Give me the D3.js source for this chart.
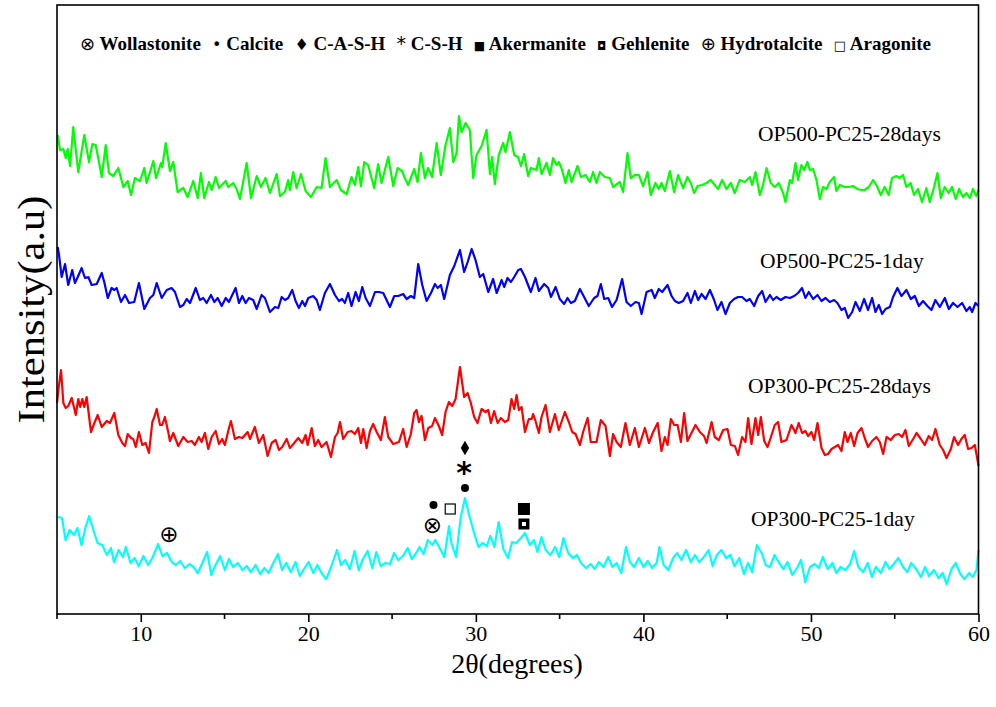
<!DOCTYPE html>
<html>
<head>
<meta charset="utf-8">
<title>XRD patterns OP300 / OP500 - PC25</title>
<script src="https://cdnjs.cloudflare.com/ajax/libs/d3/7.8.5/d3.min.js"></script>
<style>
  body { margin: 0; background: #fff; }
  svg text { font-family: "Liberation Serif", "Times New Roman", serif; fill: #000; }
  .sym { font-family: "DejaVu Sans", sans-serif; }
</style>
</head>
<body>
<div id="chart"></div>
<script>
// [2theta (deg), intensity (a.u., stacked as plotted)]
const op500_28d = [[5.04,479],[5.18,464],[5.38,465],[5.52,456],[5.64,465],[5.78,448],[5.97,487],[6.27,442],[6.63,479],[6.91,452],[7.11,470],[7.31,469],[7.46,456],[7.67,437],[7.91,469],[8.10,441],[8.36,438],[8.66,446],[8.96,427],[9.22,433],[9.42,419],[9.65,436],[9.95,433],[10.21,446],[10.35,431],[10.75,453],[10.91,436],[11.21,451],[11.28,447],[11.49,471],[11.74,443],[11.94,452],[12.20,422],[12.54,426],[12.80,417],[13.13,433],[13.40,416],[13.59,441],[13.79,416],[14.07,432],[14.23,424],[14.47,437],[14.67,426],[15.07,433],[15.22,427],[15.52,431],[15.72,425],[15.92,415],[16.32,451],[16.58,416],[16.92,438],[17.17,427],[17.45,436],[17.71,421],[18.11,440],[18.31,418],[18.60,422],[18.80,434],[18.90,424],[19.10,442],[19.30,426],[19.56,440],[19.84,423],[20.16,417],[20.50,427],[20.79,426],[21.03,456],[21.29,427],[21.69,434],[21.95,424],[22.29,420],[22.58,437],[22.78,429],[22.98,447],[23.14,428],[23.34,452],[23.57,449],[23.93,426],[24.17,450],[24.37,431],[24.77,457],[25.07,428],[25.33,446],[25.60,443],[25.76,436],[25.96,429],[26.32,445],[26.52,432],[26.72,461],[26.96,436],[27.15,446],[27.39,437],[27.66,471],[27.91,439],[28.19,469],[28.45,486],[28.65,452],[28.85,461],[28.99,498],[29.15,482],[29.39,491],[29.64,484],[29.84,436],[30.04,459],[30.34,468],[30.64,484],[30.84,440],[30.97,457],[31.13,430],[31.37,459],[31.63,471],[31.77,462],[32.03,482],[32.29,459],[32.52,457],[32.69,448],[32.88,460],[33.12,438],[33.28,446],[33.62,444],[33.76,456],[33.92,440],[34.22,451],[34.42,439],[34.61,456],[34.82,449],[34.95,452],[35.11,446],[35.35,431],[35.55,444],[35.71,432],[36.07,448],[36.27,437],[36.55,439],[36.80,432],[37.00,442],[37.20,431],[37.40,442],[37.70,437],[38.00,436],[38.19,427],[38.59,432],[38.79,422],[39.05,461],[39.25,436],[39.49,439],[39.73,439],[39.98,428],[40.25,442],[40.44,419],[40.72,431],[40.92,425],[41.08,431],[41.28,423],[41.58,443],[41.83,422],[42.07,439],[42.37,426],[42.63,437],[42.83,431],[43.03,421],[43.23,428],[43.50,429],[43.77,431],[44.02,434],[44.26,429],[44.46,425],[44.70,434],[44.96,425],[45.22,431],[45.45,421],[45.75,434],[46.05,432],[46.35,437],[46.49,429],[46.69,442],[46.95,419],[47.14,429],[47.35,446],[47.60,431],[47.84,427],[48.08,431],[48.34,421],[48.48,412],[48.74,434],[48.87,431],[49.08,451],[49.23,434],[49.43,449],[49.59,444],[49.79,452],[49.93,444],[50.13,445],[50.33,434],[50.53,415],[50.72,427],[50.93,425],[51.12,432],[51.38,437],[51.52,423],[51.72,429],[52.02,427],[52.26,427],[52.51,428],[52.78,425],[53.01,424],[53.21,424],[53.45,427],[53.71,434],[53.91,429],[54.17,419],[54.40,427],[54.64,419],[54.84,436],[55.10,438],[55.30,436],[55.50,439],[55.70,427],[55.95,431],[56.15,419],[56.39,425],[56.63,412],[56.89,426],[57.09,412],[57.35,427],[57.55,441],[57.75,416],[57.98,427],[58.22,421],[58.42,427],[58.64,415],[58.84,425],[59.07,417],[59.28,421],[59.48,416],[59.67,425],[59.87,418],[60.00,424]];

const op500_1d = [[5.04,367],[5.12,359],[5.28,337],[5.48,350],[5.67,329],[5.91,344],[6.07,331],[6.24,337],[6.47,346],[6.67,336],[6.87,337],[7.07,329],[7.37,330],[7.67,341],[7.82,332],[8.03,316],[8.26,326],[8.42,324],[8.56,326],[8.82,312],[9.06,319],[9.30,311],[9.61,312],[9.89,331],[10.21,305],[10.55,316],[10.75,319],[10.95,331],[11.25,316],[11.55,324],[11.84,326],[12.04,322],[12.34,307],[12.54,309],[12.74,315],[12.94,311],[13.28,326],[13.53,314],[13.73,316],[13.93,311],[14.19,319],[14.39,312],[14.59,316],[14.83,308],[15.07,316],[15.26,312],[15.66,326],[15.86,311],[16.06,318],[16.26,311],[16.46,316],[16.71,314],[16.92,305],[17.21,319],[17.41,316],[17.71,302],[18.01,307],[18.21,306],[18.41,317],[18.61,314],[18.80,316],[19.04,324],[19.24,313],[19.44,306],[19.64,313],[19.80,308],[20.00,316],[20.29,318],[20.50,314],[20.69,304],[20.99,321],[21.29,330],[21.59,319],[21.83,313],[22.02,315],[22.18,311],[22.38,321],[22.58,308],[22.82,322],[23.02,313],[23.22,327],[23.42,316],[23.68,308],[23.98,322],[24.21,322],[24.47,321],[24.87,307],[25.13,318],[25.37,318],[25.66,320],[25.87,315],[26.12,318],[26.32,316],[26.56,350],[26.80,329],[27.06,313],[27.32,321],[27.56,330],[27.72,326],[27.91,329],[28.11,315],[28.45,339],[28.71,348],[29.05,364],[29.30,342],[29.51,352],[29.75,365],[29.98,354],[30.24,337],[30.44,340],[30.74,322],[31.03,335],[31.24,321],[31.54,334],[31.69,327],[31.89,336],[32.09,332],[32.29,337],[32.53,344],[32.69,345],[32.93,337],[33.28,322],[33.56,336],[33.76,323],[34.08,330],[34.32,326],[34.48,317],[34.76,327],[35.01,315],[35.27,310],[35.47,316],[35.67,311],[35.91,313],[36.21,325],[36.46,317],[36.74,308],[37.06,316],[37.26,318],[37.46,330],[37.66,315],[37.90,316],[38.13,307],[38.40,314],[38.73,335],[38.99,312],[39.25,308],[39.53,312],[39.73,311],[39.89,300],[40.19,322],[40.49,324],[40.68,316],[40.92,325],[41.12,322],[41.44,329],[41.68,318],[41.88,313],[42.11,311],[42.37,313],[42.63,321],[42.83,311],[43.07,323],[43.27,314],[43.47,320],[43.71,315],[43.97,324],[44.22,314],[44.42,304],[44.66,312],[44.90,300],[45.16,311],[45.41,315],[45.65,317],[45.89,317],[46.15,313],[46.35,315],[46.61,308],[46.85,318],[47.09,323],[47.29,312],[47.55,319],[47.74,314],[47.94,317],[48.20,314],[48.48,317],[48.74,316],[49.00,318],[49.23,321],[49.47,326],[49.67,316],[49.87,322],[50.13,315],[50.39,319],[50.63,313],[50.87,316],[51.12,312],[51.38,314],[51.58,311],[51.82,304],[52.02,306],[52.22,296],[52.46,302],[52.66,312],[52.92,303],[53.17,315],[53.41,304],[53.65,316],[53.85,302],[54.05,309],[54.25,300],[54.45,305],[54.71,307],[54.90,317],[55.16,326],[55.40,318],[55.70,324],[55.96,315],[56.20,318],[56.44,308],[56.69,313],[56.95,308],[57.19,304],[57.43,314],[57.69,307],[57.99,316],[58.23,305],[58.48,311],[58.75,307],[59.02,311],[59.28,303],[59.48,307],[59.62,302],[59.82,311],[60.00,308]];

const op300_28d = [[5.00,211],[5.12,229],[5.24,244],[5.38,211],[5.52,206],[5.67,208],[5.88,216],[6.12,199],[6.27,215],[6.39,207],[6.51,215],[6.63,207],[6.77,217],[7.03,182],[7.23,191],[7.43,199],[7.67,187],[7.97,193],[8.16,191],[8.42,201],[8.66,179],[8.90,171],[9.06,168],[9.22,180],[9.42,176],[9.55,175],[9.70,167],[9.89,182],[10.09,169],[10.29,171],[10.49,161],[10.69,192],[10.81,197],[10.95,205],[11.15,189],[11.28,189],[11.44,197],[11.64,182],[11.74,173],[11.94,181],[12.24,168],[12.54,177],[12.80,172],[13.04,173],[13.23,169],[13.47,177],[13.63,172],[13.83,181],[14.03,165],[14.23,177],[14.47,183],[14.67,170],[14.86,175],[15.02,169],[15.22,183],[15.38,193],[15.62,175],[15.86,177],[16.06,176],[16.38,182],[16.52,175],[16.81,187],[17.05,171],[17.31,179],[17.57,158],[17.81,171],[18.05,174],[18.25,164],[18.44,167],[18.71,175],[18.90,166],[19.16,171],[19.40,176],[19.64,171],[19.84,179],[19.96,169],[20.20,186],[20.39,168],[20.59,174],[20.79,167],[21.09,172],[21.35,157],[21.59,177],[21.75,181],[21.89,192],[22.08,175],[22.35,182],[22.58,183],[22.78,180],[22.98,186],[23.14,171],[23.28,185],[23.48,166],[23.68,183],[23.87,190],[24.08,182],[24.33,174],[24.57,197],[24.77,177],[25.07,170],[25.41,172],[25.66,185],[25.87,167],[26.12,180],[26.32,201],[26.46,204],[26.60,192],[26.76,198],[26.96,174],[27.16,186],[27.39,188],[27.56,196],[27.79,188],[27.99,179],[28.19,202],[28.39,212],[28.59,208],[28.79,215],[29.05,247],[29.30,217],[29.51,221],[29.70,211],[29.90,197],[30.10,191],[30.34,205],[30.58,202],[30.74,204],[30.90,191],[31.09,203],[31.30,191],[31.49,196],[31.73,192],[31.93,194],[32.13,215],[32.29,205],[32.43,219],[32.57,204],[32.73,207],[32.93,182],[33.16,195],[33.33,195],[33.42,200],[33.56,193],[33.76,181],[33.92,197],[34.16,209],[34.42,182],[34.72,200],[34.95,184],[35.31,202],[35.55,192],[35.75,182],[35.95,180],[36.21,169],[36.40,182],[36.67,196],[36.86,172],[37.20,172],[37.46,194],[37.74,188],[38.00,158],[38.19,180],[38.40,172],[38.65,167],[38.93,191],[39.19,169],[39.49,186],[39.73,167],[40.09,186],[40.33,171],[40.58,182],[40.85,191],[41.08,163],[41.28,177],[41.44,169],[41.64,195],[41.84,189],[42.04,189],[42.24,172],[42.43,201],[42.63,173],[42.87,181],[43.11,189],[43.37,182],[43.62,178],[43.77,171],[44.07,192],[44.26,177],[44.50,174],[44.76,184],[45.02,185],[45.22,169],[45.46,168],[45.65,159],[45.89,177],[46.09,172],[46.25,196],[46.45,170],[46.69,196],[46.85,179],[47.01,197],[47.21,173],[47.41,167],[47.65,179],[47.84,189],[48.04,192],[48.24,172],[48.54,174],[48.84,189],[49.08,181],[49.27,191],[49.47,181],[49.67,183],[49.83,178],[50.03,182],[50.19,174],[50.39,191],[50.63,166],[50.83,159],[51.02,160],[51.23,165],[51.42,167],[51.62,169],[51.82,163],[52.02,182],[52.18,172],[52.38,181],[52.58,168],[52.78,181],[53.02,186],[53.21,176],[53.41,167],[53.65,173],[53.91,177],[54.11,172],[54.31,160],[54.51,177],[54.77,174],[55.00,179],[55.24,180],[55.44,177],[55.64,184],[55.84,168],[56.10,175],[56.30,181],[56.56,175],[56.79,169],[57.03,178],[57.23,174],[57.43,185],[57.69,169],[57.89,164],[58.09,156],[58.35,165],[58.54,177],[58.78,169],[58.98,175],[59.18,179],[59.38,165],[59.58,166],[59.78,169],[59.94,154],[60.00,148]];

const op300_1d = [[5.06,97],[5.30,96],[5.51,74],[5.76,84],[6.01,79],[6.22,86],[6.46,69],[6.71,87],[6.92,98],[7.17,84],[7.42,71],[7.70,69],[7.98,59],[8.22,66],[8.40,52],[8.68,64],[8.93,57],[9.11,67],[9.39,51],[9.63,56],[9.88,48],[10.16,58],[10.44,49],[10.69,56],[11.04,70],[11.29,58],[11.57,61],[11.85,52],[12.09,49],[12.35,53],[12.63,46],[12.91,50],[13.15,47],[13.40,41],[13.68,51],[13.96,62],[14.21,39],[14.46,49],[14.74,58],[15.02,44],[15.26,55],[15.51,47],[15.79,51],[16.07,44],[16.32,48],[16.57,42],[16.85,49],[17.13,40],[17.38,46],[17.63,41],[17.91,51],[18.19,60],[18.43,44],[18.68,51],[18.96,42],[19.24,52],[19.49,38],[19.74,45],[20.02,52],[20.30,41],[20.54,49],[20.79,41],[21.07,35],[21.36,47],[21.71,64],[21.95,49],[22.20,54],[22.48,45],[22.76,63],[23.01,44],[23.26,55],[23.54,63],[23.82,46],[24.06,62],[24.32,48],[24.60,51],[24.88,50],[25.12,61],[25.37,54],[25.65,58],[25.93,66],[26.18,55],[26.43,61],[26.64,67],[26.88,60],[27.13,74],[27.41,69],[27.58,74],[27.84,66],[28.12,57],[28.40,88],[28.54,71],[28.82,57],[29.10,97],[29.35,116],[29.60,99],[29.88,82],[30.16,67],[30.40,71],[30.65,68],[30.86,78],[31.11,67],[31.36,92],[31.64,65],[31.92,56],[32.16,72],[32.41,71],[32.69,76],[32.94,81],[33.22,69],[33.47,74],[33.68,62],[33.92,77],[34.17,64],[34.45,59],[34.73,67],[34.98,57],[35.23,76],[35.51,61],[35.79,56],[36.03,59],[36.28,51],[36.57,46],[36.85,50],[37.09,45],[37.34,52],[37.62,47],[37.90,57],[38.15,47],[38.40,51],[38.68,41],[38.96,67],[39.20,52],[39.45,47],[39.73,56],[40.01,47],[40.26,53],[40.51,46],[40.79,51],[40.96,67],[41.21,49],[41.49,44],[41.77,56],[42.02,61],[42.27,54],[42.55,64],[42.83,52],[43.08,59],[43.33,52],[43.61,57],[43.89,64],[44.13,48],[44.38,59],[44.66,64],[44.94,56],[45.19,59],[45.44,48],[45.72,56],[46.00,40],[46.24,51],[46.49,42],[46.77,69],[47.06,61],[47.30,49],[47.55,47],[47.83,59],[48.11,51],[48.36,45],[48.60,52],[48.89,39],[49.17,46],[49.41,54],[49.66,32],[49.94,47],[50.22,50],[50.47,46],[50.71,57],[51.00,45],[51.28,51],[51.52,41],[51.77,47],[52.06,44],[52.34,50],[52.58,63],[52.83,47],[53.11,42],[53.39,51],[53.64,37],[53.88,47],[54.17,41],[54.45,52],[54.69,45],[54.94,50],[55.22,56],[55.50,47],[55.75,42],[55.99,51],[56.28,45],[56.56,37],[56.81,47],[57.05,38],[57.34,44],[57.62,36],[57.86,41],[58.10,30],[58.39,45],[58.64,51],[58.92,40],[59.16,35],[59.45,41],[59.66,37],[59.88,44],[60.00,64]];

const seriesNames = ["OP500-PC25-28days", "OP500-PC25-1day", "OP300-PC25-28days", "OP300-PC25-1day"];
const seriesData = [op500_28d, op500_1d, op300_28d, op300_1d];
const xTicks = [10, 20, 30, 40, 50, 60];
const xMinorTicks = [5, 15, 25, 35, 45, 55];

// phase legend
const phaseNames = ["Wollastonite", "Calcite", "C-A-S-H", "C-S-H", "Akermanite", "Gehlenite", "Hydrotalcite", "Aragonite"];
const phaseSymbols = ["\u2297", "\u2022", "\u2666", "*", "\u25A0", "\u25D8", "\u2295", "\u25A1"];

// peak markers: phase, 2theta, intensity level where the marker sits
const peakPhase = ["C-A-S-H", "C-S-H", "Calcite", "Calcite", "Aragonite", "Wollastonite", "Akermanite", "Gehlenite", "Hydrotalcite"];
const peakTheta = [29.35, 29.3, 29.35, 27.47, 28.47, 27.41, 32.87, 32.87, 11.68];
const peakLevel = [166, 142, 126, 109, 105, 89, 105, 90, 80];

const W = 996, H = 707;
const plot = { left: 57, right: 978.5, top: 5, bottom: 614 };
const colors = ["#00ff00", "#0000ff", "#ff0000", "#00ffff"];
const labelPos = [[758, 140.5], [760, 268], [748, 393], [751, 526]];

const svg = d3.select("#chart").append("svg")
    .attr("width", W).attr("height", H);

const x = d3.scaleLinear().domain([5, 60]).range([plot.left, plot.right]);
const y = d3.scaleLinear().domain([0, 609]).range([plot.bottom, plot.top]);

// series
const line = d3.line().x(d => x(d[0])).y(d => y(d[1]));
svg.selectAll("path.series")
    .data(seriesData)
    .enter().append("path")
    .attr("class", "series")
    .attr("d", line)
    .attr("fill", "none")
    .attr("stroke", (d, i) => colors[i])
    .attr("stroke-width", 2.2)
    .attr("stroke-linejoin", "round");

// series labels
svg.selectAll("text.slabel")
    .data(seriesNames)
    .enter().append("text")
    .attr("class", "slabel")
    .attr("x", (d, i) => labelPos[i][0])
    .attr("y", (d, i) => labelPos[i][1])
    .style("font-size", "21.5px")
    .text(d => d);

// frame
svg.append("rect")
    .attr("x", plot.left).attr("y", plot.top)
    .attr("width", plot.right - plot.left).attr("height", plot.bottom - plot.top)
    .attr("fill", "none").attr("stroke", "#000").attr("stroke-width", 1.6);

// x axis
const xAxis = d3.axisBottom(x).tickValues(xTicks).tickSize(8).tickFormat(d3.format("d"));
const gx = svg.append("g").attr("transform", `translate(0,${plot.bottom})`).call(xAxis);
gx.select(".domain").remove();
gx.selectAll(".tick line").attr("stroke-width", 1.6);
gx.selectAll(".tick text")
    .attr("y", 11)
    .style("font-family", "'Liberation Serif', serif")
    .style("font-size", "22px");
gx.selectAll(".minor").data(xMinorTicks).enter().append("line")
    .attr("x1", d => x(d)).attr("x2", d => x(d))
    .attr("y1", 0).attr("y2", 5)
    .attr("stroke", "#000").attr("stroke-width", 1.6);

// axis titles
svg.append("text")
    .attr("x", 517).attr("y", 673)
    .attr("text-anchor", "middle")
    .style("font-size", "28px")
    .text("2\u03B8(degrees)");

svg.append("text")
    .attr("transform", `translate(44,${(plot.top + plot.bottom) / 2}) rotate(-90)`)
    .attr("text-anchor", "middle")
    .attr("textLength", 228)
    .attr("lengthAdjust", "spacingAndGlyphs")
    .style("font-size", "37px")
    .text("Intensity(a.u)");

// peak markers
const marks = svg.append("g");
peakPhase.forEach((p, i) => {
  const cx = x(peakTheta[i]), cy = y(peakLevel[i]);
  if (p === "Calcite") {
    marks.append("circle").attr("cx", cx).attr("cy", cy).attr("r", 4).attr("fill", "#000");
  } else if (p === "C-A-S-H") {
    marks.append("path").attr("transform", `translate(${cx},${cy})`)
      .attr("d", d3.symbol(d3.symbolDiamond, 60)()).attr("fill", "#000");
  } else if (p === "Akermanite") {
    marks.append("rect").attr("x", cx - 6).attr("y", cy - 6).attr("width", 12).attr("height", 12).attr("fill", "#000");
  } else if (p === "Gehlenite") {
    marks.append("rect").attr("x", cx - 5.5).attr("y", cy - 5.5).attr("width", 11).attr("height", 11).attr("fill", "#000");
    marks.append("rect").attr("x", cx - 2).attr("y", cy - 2).attr("width", 4).attr("height", 4).attr("fill", "#fff");
  } else if (p === "Aragonite") {
    marks.append("rect").attr("x", cx - 5).attr("y", cy - 5).attr("width", 10).attr("height", 10)
      .attr("fill", "#fff").attr("stroke", "#000").attr("stroke-width", 1.2);
  } else {
    const glyph = p === "C-S-H" ? "*" : phaseSymbols[phaseNames.indexOf(p)];
    marks.append("text").attr("class", "sym")
      .attr("x", cx).attr("y", cy)
      .attr("text-anchor", "middle").attr("dominant-baseline", "central")
      .style("font-size", p === "C-S-H" ? "30px" : "23px")
      .style("font-weight", p === "C-S-H" ? "bold" : "normal")
      .text(glyph);
  }
});

// phase legend along the top
const symSize = { "\u25A0": 12, "\u25D8": 12, "\u25A1": 13, "\u2022": 16, "\u2666": 16, "*": 19, "\u2297": 18, "\u2295": 18 };
const leg = svg.append("g");
const items = phaseNames.map((n, i) => {
  const t = leg.append("text").attr("y", 50).style("font-size", "19px").style("font-weight", "bold");
  t.append("tspan").attr("class", "sym").style("font-weight", "normal")
    .style("font-size", symSize[phaseSymbols[i]] + "px").text(phaseSymbols[i]);
  t.append("tspan").text(" " + n);
  return t;
});
const widths = items.map(t => t.node().getComputedTextLength());
const legStart = 80, legEnd = 931;
const gap = (legEnd - legStart - d3.sum(widths)) / (items.length - 1);
let cur = legStart;
items.forEach((t, i) => { t.attr("x", cur); cur += widths[i] + gap; });
</script>
</body>
</html>
